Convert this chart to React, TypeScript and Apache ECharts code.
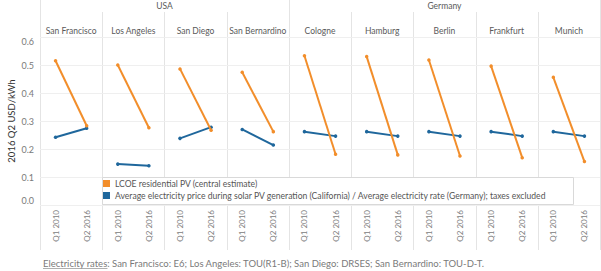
import React, { useEffect, useRef } from "react";
import * as echarts from "echarts";

// ---- data ----
const countries = ["USA", "Germany"];
const cities = [
  "San Francisco",
  "Los Angeles",
  "San Diego",
  "San Bernardino",
  "Cologne",
  "Hamburg",
  "Berlin",
  "Frankfurt",
  "Munich",
];
const cityCountry = ["USA", "USA", "USA", "USA", "Germany", "Germany", "Germany", "Germany", "Germany"];
const periods = ["Q1 2010", "Q2 2016"];
const lcoeQ1 = [0.515, 0.5, 0.486, 0.474, 0.533, 0.53, 0.518, 0.496, 0.456];
const lcoeQ2 = [0.283, 0.276, 0.267, 0.262, 0.181, 0.179, 0.175, 0.169, 0.155];
const priceQ1 = [0.242, 0.146, 0.238, 0.27, 0.262, 0.262, 0.262, 0.262, 0.262];
const priceQ2 = [0.274, 0.14, 0.278, 0.214, 0.246, 0.246, 0.246, 0.246, 0.246];
const seriesNames = [
  "LCOE residential PV (central estimate)",
  "Average electricity price during solar PV generation (California) / Average electricity rate (Germany); taxes excluded",
];
const yMin = 0;
const yMax = 0.6;
const yInterval = 0.1;
const yTitle = "2016 Q2 USD/kWh";
const footnoteLabel = "Electricity rates";
const footnoteText = ": San Francisco: E6; Los Angeles: TOU(R1-B); San Diego: DRSES; San Bernardino: TOU-D-T.";

// ---- style / layout ----
const W = 601;
const H = 271;
const FONT = "Lato";
const ORANGE = "#F28E2B";
const BLUE = "#1F679C";
const PANE_LEFT = 40;
const PANE_RIGHT = 600;
const PANE_TOP = 37;
const PANE_BOTTOM = 205;
const SEP = "#e4e4e4";
const FN_SIZE = 9.5;

function measure(text: string, font: string): number {
  const c = document.createElement("canvas");
  const ctx = c.getContext("2d");
  if (!ctx) return text.length * 4;
  ctx.font = font;
  return ctx.measureText(text).width;
}

export default function App() {
  const ref = useRef<HTMLDivElement>(null);

  useEffect(() => {
    if (!ref.current) return;
    const chart = echarts.init(ref.current, undefined, { renderer: "svg" });
    const n = cities.length;
    const pw = (PANE_RIGHT - PANE_LEFT) / n;

    const grids: any[] = [];
    const xAxes: any[] = [];
    const yAxes: any[] = [];
    const series: any[] = [];
    const graphics: any[] = [];

    for (let i = 0; i < n; i++) {
      grids.push({
        left: PANE_LEFT + i * pw,
        width: pw,
        top: PANE_TOP,
        height: PANE_BOTTOM - PANE_TOP,
      });
      xAxes.push({
        type: "category",
        gridIndex: i,
        data: periods,
        boundaryGap: true,
        axisLine: { show: false },
        axisTick: { show: false },
        splitLine: { show: false },
        axisLabel: {
          rotate: 90,
          margin: 5,
          fontSize: 8,
          color: "#808080",
          fontFamily: FONT,
          interval: 0,
        },
      });
      yAxes.push({
        type: "value",
        gridIndex: i,
        min: yMin,
        max: yMax,
        interval: yInterval,
        axisLine: { show: false },
        axisTick: { show: false },
        splitLine: { show: true, lineStyle: { color: "#efefef", width: 1 } },
        axisLabel: {
          show: i === 0,
          formatter: (v: number) => v.toFixed(1),
          fontSize: 9,
          color: "#7a7a7a",
          fontFamily: FONT,
          margin: 6,
          verticalAlignMinLabel: "bottom",
          verticalAlignMaxLabel: "top",
        },
        name: i === 0 ? yTitle : "",
        nameLocation: "middle",
        nameGap: 24,
        nameRotate: 90,
        nameTextStyle: { fontSize: 9.5, color: "#333", fontFamily: FONT },
      });
      series.push({
        type: "line",
        name: seriesNames[1],
        xAxisIndex: i,
        yAxisIndex: i,
        data: [priceQ1[i], priceQ2[i]],
        color: BLUE,
        symbol: "circle",
        symbolSize: 3.5,
        showSymbol: true,
        lineStyle: { width: 2, color: BLUE },
        itemStyle: { color: BLUE },
        z: 3,
      });
      series.push({
        type: "line",
        name: seriesNames[0],
        xAxisIndex: i,
        yAxisIndex: i,
        data: [lcoeQ1[i], lcoeQ2[i]],
        color: ORANGE,
        symbol: "circle",
        symbolSize: 3.5,
        showSymbol: true,
        lineStyle: { width: 2, color: ORANGE },
        itemStyle: { color: ORANGE },
        z: 4,
      });

      // city header
      graphics.push({
        type: "text",
        x: PANE_LEFT + (i + 0.5) * pw,
        y: 31,
        style: {
          text: cities[i],
          align: "center",
          verticalAlign: "middle",
          fontSize: 8.5,
          fontFamily: FONT,
          fill: "#5a5a5a",
        },
      });
    }

    // separators
    for (let i = 0; i <= n; i++) {
      const x = Math.round(PANE_LEFT + i * pw) + 0.5;
      const isCountryEdge = i === 0 || i === n || cityCountry[i] !== cityCountry[i - 1];
      graphics.push({
        type: "line",
        shape: { x1: x, y1: isCountryEdge ? 0 : 12, x2: x, y2: 250 },
        style: { stroke: SEP, lineWidth: 1 },
        z: 0,
      });
    }

    // country headers
    countries.forEach((c) => {
      const idx = cityCountry.map((cc, k) => (cc === c ? k : -1)).filter((k) => k >= 0);
      const first = idx[0];
      const last = idx[idx.length - 1];
      graphics.push({
        type: "text",
        x: PANE_LEFT + ((first + last + 1) / 2) * pw,
        y: 6,
        style: {
          text: c,
          align: "center",
          verticalAlign: "middle",
          fontSize: 8.5,
          fontFamily: FONT,
          fill: "#5a5a5a",
        },
      });
    });

    // legend box
    graphics.push({
      type: "rect",
      shape: { x: 102.5, y: 177.5, width: 471, height: 27 },
      style: { fill: "#ffffff", stroke: "#d9d9d9", lineWidth: 1 },
      z: 50,
    });

    // footnote
    const fnFont = `${FN_SIZE}px ${FONT}`;
    const lw = measure(footnoteLabel, fnFont);
    graphics.push({
      type: "text",
      x: 43,
      y: 263,
      style: {
        text: footnoteLabel + footnoteText,
        fontSize: FN_SIZE,
        fontFamily: FONT,
        fill: "#7a7a7a",
        verticalAlign: "middle",
      },
    });
    graphics.push({
      type: "line",
      shape: { x1: 43, y1: 268.5, x2: 43 + lw, y2: 268.5 },
      style: { stroke: "#9a9a9a", lineWidth: 0.8 },
    });

    chart.setOption({
      animation: false,
      backgroundColor: "#ffffff",
      textStyle: { fontFamily: FONT },
      grid: grids,
      xAxis: xAxes,
      yAxis: yAxes,
      series,
      legend: {
        show: true,
        data: [seriesNames[0], seriesNames[1]],
        orient: "vertical",
        left: 103,
        top: 179,
        padding: 0,
        itemWidth: 7,
        itemHeight: 7,
        itemGap: 3,
        icon: "rect",
        selectedMode: false,
        z: 60,
        textStyle: { fontSize: 8.6, color: "#555", fontFamily: FONT },
      },
      graphic: graphics,
    });

    return () => {
      chart.dispose();
    };
  }, []);

  return (
    <div
      ref={ref}
      style={{ position: "absolute", left: 0, top: 0, width: W, height: H }}
    />
  );
}
